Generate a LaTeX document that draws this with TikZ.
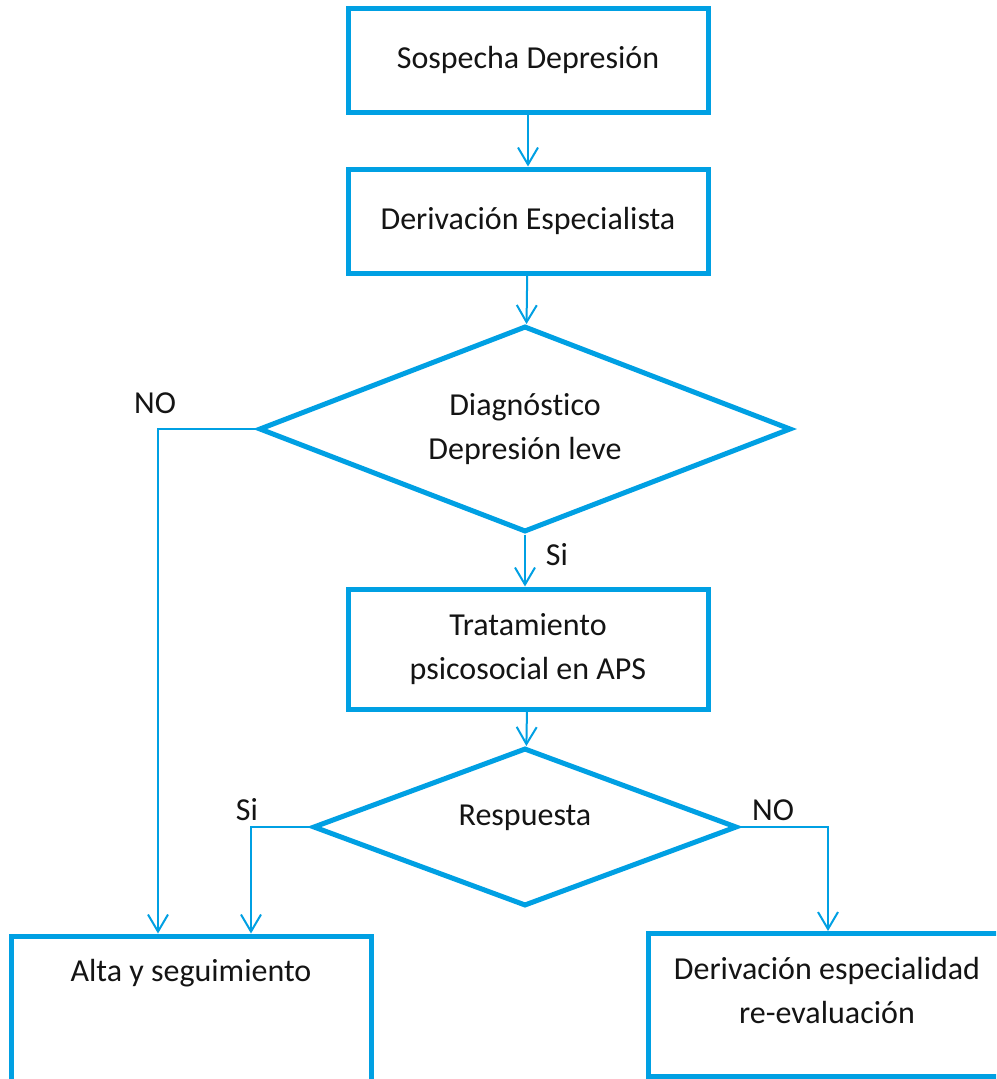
\documentclass[tikz,border=0pt]{standalone}
\usepackage{fontspec}
\setmainfont{Carlito}[Ligatures={NoCommon,TeX}]
\usetikzlibrary{shapes.geometric,arrows.meta}
\definecolor{cy}{RGB}{0,160,227}
\definecolor{ink}{RGB}{20,20,20}
\tikzset{
  every node/.style={font=\fontsize{32}{44}\selectfont, text=ink},
  boxn/.style={draw=cy, line width=5pt, rectangle, inner sep=0pt},
  dia/.style={draw=cy, line width=5pt, diamond, inner sep=0pt, align=center},
  arr/.style={draw=cy, line width=2pt, -{Straight Barb[length=17pt,width=20pt,line width=2pt]}},
  lbl/.style={inner sep=0pt}
}
\begin{document}
\begin{tikzpicture}[x=1pt,y=-1pt]
\useasboundingbox (0,0) rectangle (996,1079);
\clip (0,0) rectangle (996,1079);
\fill[white] (0,0) rectangle (996,1079);
\node[boxn, minimum width=360pt, minimum height=104pt] (b1) at (528,60) {Sospecha Depresión};
\node[boxn, minimum width=360pt, minimum height=104pt] (b2) at (528,221) {Derivación Especialista};
\node[dia, aspect=2.6, minimum width=532pt, minimum height=206pt] (d1) at (525,429) {Diagnóstico\\Depresión leve};
\node[boxn, minimum width=360pt, minimum height=120pt, align=center] (b3) at (528,649) {Tratamiento\\psicosocial en APS};
\node[dia, aspect=2.7, minimum width=424pt, minimum height=158pt] (d2) at (525,827) {};
\node[lbl] (t2) at (525,818) {Respuesta};
\node[boxn, minimum width=360pt, minimum height=210pt] (b4) at (191,1041) {};
\node[lbl] (t4) at (191,973) {Alta y seguimiento};
\node[boxn, minimum width=360pt, minimum height=143pt] (b5) at (828,1005) {};
\node[lbl, align=center] (t5) at (827,990) {Derivación especialidad\\re-evaluación};
\coordinate (cl) at (158,0);
\coordinate (cm) at (251,0);
\draw[arr] (b1) -- (b2);
\draw[arr] (b2) -- (d1);
\draw[arr] (d1.south) -- (d1.south |- b3.north);
\draw[arr] (b3) -- (d2);
\draw[arr] (d1.west) -| (b4.north -| cl);
\draw[arr] (d2.west) -| (b4.north -| cm);
\draw[arr] (d2.east) -| (b5.north);
\node[lbl] (lno1) at (155,403) {NO};
\node[lbl] (lsi1) at (557,555) {Si};
\node[lbl] (lsi2) at (247,810) {Si};
\node[lbl] (lno2) at (773,810) {NO};
\end{tikzpicture}
\end{document}
